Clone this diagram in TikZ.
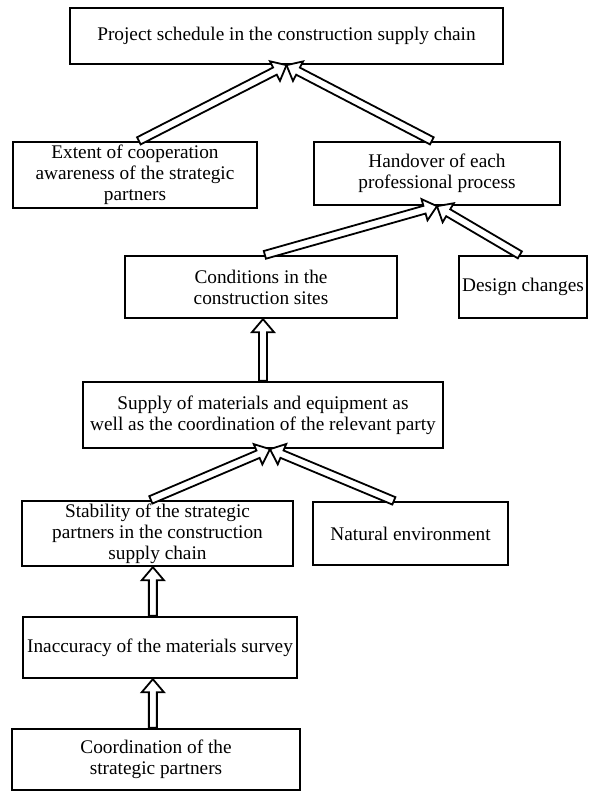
\documentclass[tikz,border=0pt]{standalone}
\usepackage{fontspec}
\setmainfont{Liberation Serif}
\usetikzlibrary{calc}
\tikzset{
  box/.style={draw, line width=2.3pt, align=center, inner sep=0pt,
    font=\fontsize{19.3}{21}\selectfont},
  harr/.style={draw, fill=white, line width=1.8pt, line join=miter, miter limit=6},
}
\newcommand\hollowarrow[2]{%
  \coordinate (hn) at ($(#2)!13pt!(#1)$);
  \path[harr] ($(#1)!4pt!90:(#2)$) -- ($(hn)!4pt!90:(#2)$) -- ($(hn)!11pt!90:(#2)$)
    -- (#2) -- ($(hn)!11pt!-90:(#2)$) -- ($(hn)!4pt!-90:(#2)$)
    -- ($(#1)!4pt!-90:(#2)$) -- cycle;
}
\begin{document}
\begin{tikzpicture}[x=1pt,y=-1pt]
\useasboundingbox (0,0) rectangle (592,792);
\node[box, minimum width=433pt, minimum height=56pt] (top) at (286.5,36)
  {Project schedule in the construction supply chain};
\node[box, minimum width=244pt, minimum height=66pt] (ext) at (135,175)
  {Extent of cooperation\\awareness of the strategic\\partners};
\node[box, minimum width=246pt, minimum height=63pt] (hand) at (437,173.5)
  {Handover of each\\professional process};
\node[box, minimum width=272pt, minimum height=62pt] (cond) at (261,287)
  {Conditions in the\\construction sites};
\node[box, minimum width=128pt, minimum height=62pt] (design) at (523,287)
  {Design changes};
\node[box, minimum width=360pt, minimum height=66pt] (supply) at (263,415)
  {Supply of materials and equipment as\\well as the coordination of the relevant party};
\node[box, minimum width=271pt, minimum height=65pt] (stab) at (157.5,533.5)
  {Stability of the strategic\\partners in the construction\\supply chain};
\node[box, minimum width=195pt, minimum height=63pt] (nat) at (410.5,533.5)
  {Natural environment};
\node[box, minimum width=274pt, minimum height=61pt] (inacc) at (160,647.5)
  {Inaccuracy of the materials survey};
\node[box, minimum width=288pt, minimum height=61pt] (coord) at (156,759.5)
  {Coordination of the\\strategic partners};
% connector end points
\coordinate (a1) at ($(ext.north west)+(127,0)$);
\coordinate (a2) at ($(hand.north west)+(119,0)$);
\coordinate (a3) at ($(cond.north west)+(141,0)$);
\coordinate (a4) at ($(design.north west)+(62,0)$);
\coordinate (a5) at (supply.north);
\coordinate (b5) at (supply.north |- cond.south);
\coordinate (a6) at ($(stab.north west)+(130,0)$);
\coordinate (a7) at ($(nat.north west)+(82,0)$);
\coordinate (b6) at ($(supply.south)+(7,0)$);
\coordinate (a8) at ($(inacc.north west)+(131,0)$);
\coordinate (b8) at (a8 |- stab.south);
\coordinate (a9) at ($(coord.north west)+(142,0)$);
\coordinate (b9) at (a9 |- inacc.south);
\hollowarrow{a1}{top.south}
\hollowarrow{a2}{top.south}
\hollowarrow{a3}{hand.south}
\hollowarrow{a4}{hand.south}
\hollowarrow{a5}{b5}
\hollowarrow{a6}{b6}
\hollowarrow{a7}{b6}
\hollowarrow{a8}{b8}
\hollowarrow{a9}{b9}
\end{tikzpicture}
\end{document}
